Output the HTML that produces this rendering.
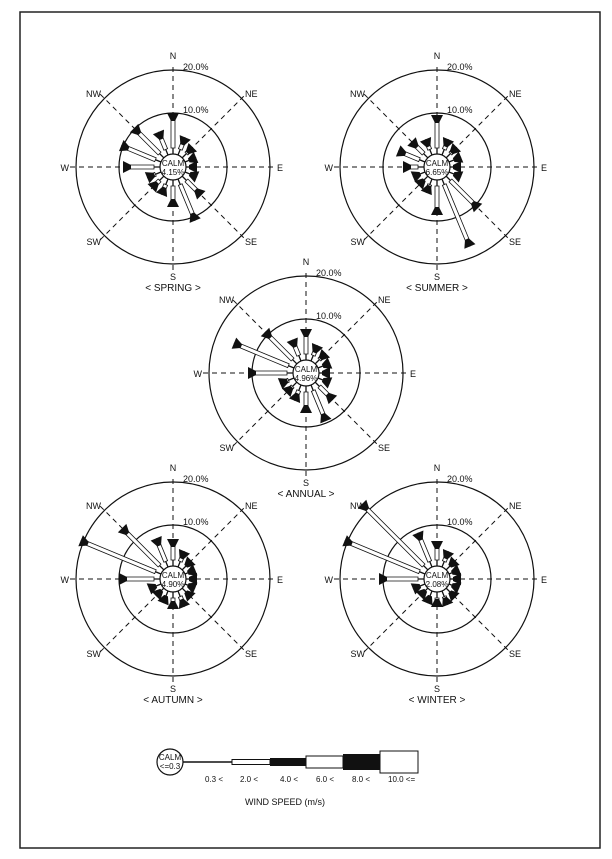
<!DOCTYPE html>
<html><head><meta charset="utf-8"><style>
html,body{margin:0;padding:0;background:#fff}
svg{display:block}
text{font-family:"Liberation Sans",sans-serif;fill:#111}
</style></head><body>
<svg id="s" width="612" height="859" viewBox="0 0 612 859" xmlns="http://www.w3.org/2000/svg">
<rect x="20" y="12" width="580" height="836" fill="none" stroke="#222" stroke-width="1.5"/>
<g id="roses"></g>
<circle cx="170" cy="762" r="13" fill="#fff" stroke="#111" stroke-width="1.2"/>
<text x="170" y="760" font-size="8" text-anchor="middle">CALM</text>
<text x="170" y="769" font-size="8" text-anchor="middle">&lt;=0.3</text>
<line x1="183" y1="762" x2="232" y2="762" stroke="#111" stroke-width="1.5"/>
<rect x="232" y="759.5" width="38" height="5" fill="#fff" stroke="#111"/>
<rect x="270" y="758" width="36" height="8" fill="#111"/>
<rect x="306" y="756" width="37" height="12" fill="#fff" stroke="#111"/>
<rect x="343" y="754" width="37" height="16" fill="#111"/>
<rect x="380" y="751" width="38" height="22" fill="#fff" stroke="#111"/>
<g font-size="8">
<text x="205" y="782">0.3 &lt;</text><text x="240" y="782">2.0 &lt;</text><text x="280" y="782">4.0 &lt;</text>
<text x="316" y="782">6.0 &lt;</text><text x="352" y="782">8.0 &lt;</text><text x="388" y="782">10.0 &lt;=</text>
<text x="245" y="805" font-size="9">WIND SPEED (m/s)</text>
</g>
</svg>
<script>
var g=document.getElementById('roses'),NS='http://www.w3.org/2000/svg';
function el(t,a,txt){var e=document.createElementNS(NS,t);for(var k in a)e.setAttribute(k,a[k]);if(txt)e.textContent=txt;g.appendChild(e);return e;}
function rose(cx,cy,calm,title,L){
 el('circle',{cx:cx,cy:cy,r:97,fill:'none',stroke:'#111','stroke-width':1.2});
 el('circle',{cx:cx,cy:cy,r:54,fill:'none',stroke:'#111','stroke-width':1.2});
 for(var i=0;i<4;i++){var a=i*Math.PI/4,s=Math.sin(a),c=Math.cos(a);
  el('line',{x1:cx-s*103,y1:cy+c*103,x2:cx+s*103,y2:cy-c*103,stroke:'#111','stroke-width':1,'stroke-dasharray':'5,4'});}
 var labs=[['N',0,-108,'middle'],['S',0,113,'middle'],['E',104,4,'start'],['W',-104,4,'end'],['NE',72,-70,'start'],['NW',-72,-70,'end'],['SE',72,78,'start'],['SW',-72,78,'end']];
 labs.forEach(function(l){el('text',{x:cx+l[1],y:cy+l[2],'font-size':9,'text-anchor':l[3]},l[0]);});
 el('text',{x:cx+10,y:cy-97,'font-size':9},'20.0%');
 el('text',{x:cx+10,y:cy-54,'font-size':9},'10.0%');
 for(var d=0;d<16;d++){var len=L[d];var a=d*Math.PI/8,s=Math.sin(a),c=Math.cos(a);
  var px=-c,py=-s;
  function P(r,w){return [cx+s*r+px*w,cy-c*r+py*w];}
  var r0=13;
  el('line',{x1:cx+s*r0,y1:cy-c*r0,x2:cx+s*len,y2:cy-c*len,stroke:'#111','stroke-width':1.3});
  if(len>26){var q=[P(r0+6,2),P(len-7,2),P(len-7,-2),P(r0+6,-2)];
   el('polygon',{points:q.map(String).join(' '),fill:'#fff',stroke:'#111','stroke-width':0.8});}
  var t=[P(len-8,2),P(len,6),P(len,-6),P(len-8,-2)];
  el('polygon',{points:t.map(String).join(' '),fill:'#111'});
 }
 el('circle',{cx:cx,cy:cy,r:13,fill:'#fff',stroke:'#111','stroke-width':1.2});
 el('text',{x:cx,y:cy-1,'font-size':8,'text-anchor':'middle'},'CALM');
 el('text',{x:cx,y:cy+8,'font-size':8,'text-anchor':'middle'},calm);
 el('text',{x:cx,y:cy+124,'font-size':10,'text-anchor':'middle'},'< '+title+' >');
}
rose(173,167,'4.15%','SPRING',[54,32,28,25,24,26,40,58,40,30,30,28,50,56,55,38]);
rose(437,167,'6.65%','SUMMER',[52,30,28,26,24,26,58,86,48,28,26,26,34,42,36,30]);
rose(306,373,'4.96%','ANNUAL',[44,30,28,26,24,26,38,52,40,30,28,28,58,78,58,36]);
rose(173,579,'4.90%','AUTUMN',[40,30,26,24,24,24,26,30,30,26,24,26,54,100,72,44]);
rose(437,579,'2.08%','WINTER',[38,30,26,24,24,24,26,28,28,26,24,26,58,100,106,50]);
</script>
</body></html>
